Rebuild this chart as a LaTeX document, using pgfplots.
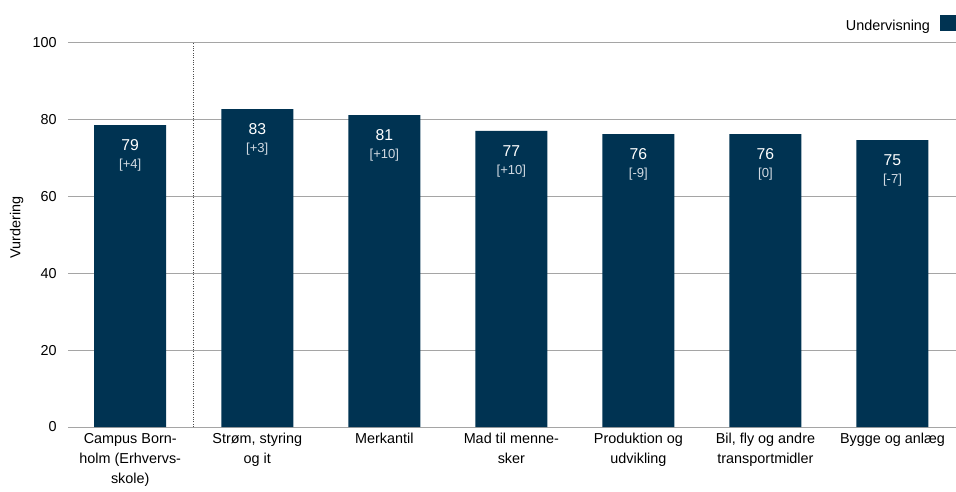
\documentclass[border=0pt]{standalone}
\usepackage{fontspec}
\setmainfont{Liberation Sans}
\usepackage{pgfplots}
\pgfplotsset{compat=1.18}
\usepackage{pgfplotstable}
\definecolor{barblue}{RGB}{0,51,82}
\definecolor{gridgray}{RGB}{165,165,165}
\definecolor{deltagray}{RGB}{210,218,226}
\pgfplotstableread{
x y lab d
0 78.6 79 [+4]
1 82.8 83 [+3]
2 81.2 81 [+10]
3 77.1 77 [+10]
4 76.3 76 [-9]
5 76.3 76 [0]
6 74.7 75 [-7]
}\datatable
\begin{document}
\begin{tikzpicture}
\begin{axis}[
  name=ax,
  scale only axis,
  width=666pt, height=288pt,
  xmin=-0.49, xmax=6.5, ymin=0, ymax=100,
  ytick={0,20,...,100},
  xtick={0,...,6},
  xticklabels={{Campus Born-\\holm (Erhvervs-\\skole)},{Strøm, styring\\og it},Merkantil,{Mad til menne-\\sker},{Produktion og\\udvikling},{Bil, fly og andre\\transportmidler},Bygge og anlæg},
  xticklabel style={align=center, font=\fontsize{10.8}{15}\selectfont, yshift=-1pt},
  yticklabel style={font=\fontsize{10.8}{13}\selectfont, xshift=-5pt},
  /pgf/number format/assume math mode=true,
  ymajorgrids,
  grid style={gridgray, line width=0.75pt},
  axis line style={draw=none},
  major tick length=0pt,
  ylabel={Vurdering},
  every axis y label/.style={at={(axis description cs:-0.0578,0.52)}, rotate=90, anchor=center, font=\fontsize{10.8}{13}\selectfont},
  legend style={at={(axis description cs:1,1)}, anchor=south east, yshift=6pt, draw=none, fill=none, font=\fontsize{10.8}{13}\selectfont, inner sep=0pt, outer sep=0pt},
  legend plot pos=right,
  legend cell align=right,
  legend image code/.code={\path (0,0); \fill[barblue] (0.55em,-0.4em) rectangle (1.75em,0.8em);},
]
\addplot[ybar, bar width=54pt, fill=barblue, draw=none,
  point meta=explicit symbolic,
  nodes near coords,
  every node near coord/.append style={anchor=north, text=white, font=\fontsize{11.8}{14}\selectfont, inner sep=0pt, yshift=-10.5pt},
] table[x=x, y=y, meta=lab] {\datatable};
\addlegendentry{Undervisning}
\addplot[draw=none, mark=none, forget plot,
  point meta=explicit symbolic,
  nodes near coords,
  every node near coord/.append style={anchor=north, text=deltagray, font=\fontsize{9.8}{11}\selectfont, inner sep=0pt, yshift=-25pt},
] table[x=x, y=y, meta=d] {\datatable};
\draw[densely dotted, black!70, line width=0.75pt] (axis cs:0.5,0) -- (axis cs:0.5,100.8);
\end{axis}
\pgfresetboundingbox
\useasboundingbox ([xshift=-51pt,yshift=-48.75pt]ax.south west) rectangle ([yshift=32.25pt]ax.north east);
\end{tikzpicture}
\end{document}
